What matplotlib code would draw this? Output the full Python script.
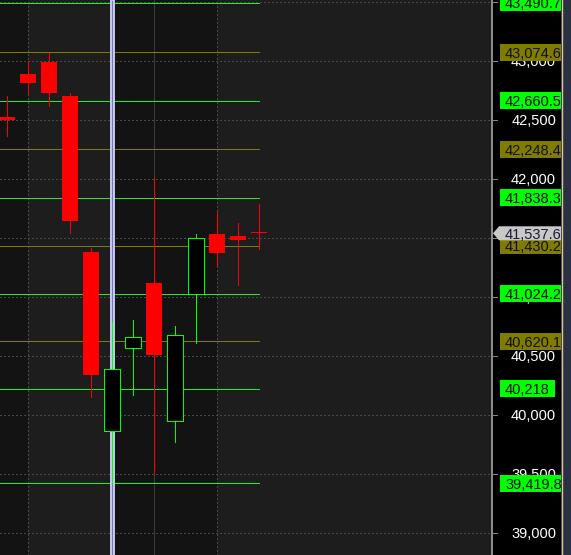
import matplotlib
matplotlib.use("Agg")
import matplotlib.pyplot as plt
from matplotlib.patches import Rectangle, Polygon
from matplotlib.lines import Line2D

# OHLC candles (oldest to newest)
opens  = [42524, 42888, 42990, 42702, 41379, 39861, 40565, 41116, 39946, 41023, 41532, 41515, 41545]
highs  = [42702, 42999, 43067, 42727, 41413, 40785, 40802, 42006, 40751, 41532, 41718, 41625, 41786]
lows   = [42363, 42727, 42617, 41540, 40149, 39420, 40166, 39505, 39767, 40607, 41260, 41099, 41404]
closes = [42499, 42812, 42727, 41642, 40336, 40387, 40658, 40505, 40675, 41498, 41370, 41481, 41537.6]

# Horizontal price levels and their colours
level_values = [43490.7, 43074.6, 42660.5, 42248.4, 41838.3, 41430.2, 41024.2, 40620.1, 40218, 39419.8]
level_labels = ["43,490.7", "43,074.6", "42,660.5", "42,248.4", "41,838.3",
                "41,430.2", "41,024.2", "40,620.1", "40,218", "39,419.8"]
level_kinds = ["g", "o", "g", "o", "g", "o", "g", "o", "g", "g"]

last_price = 41537.6
last_label = "41,537.6"

y_ticks = [39000, 39500, 40000, 40500, 41000, 41500, 42000, 42500, 43000, 43500]
y_tick_labels = ["39,000", "39,500", "40,000", "40,500", "41,000",
                 "41,500", "42,000", "42,500", "43,000", "43,500"]

W, H = 571, 555
AX_RIGHT = 491
SCALE_RIGHT = 561
YMIN, YMAX = 38809.2, 43516.1

GREEN = "#00ff00"
LINE_GREEN = "#22ee22"
OLIVE = "#807c00"
RED = "#ff0000"
DARK_BG = "#131313"
LIGHT_BG = "#1d1d1d"
GRID = "#484848"
FONT = "Liberation Sans"
FS = 10.5
LW = 0.6  # one device pixel, drawn without antialiasing

fig = plt.figure(figsize=(W / 100, H / 100), dpi=100, facecolor="black")

# main price panel
ax = fig.add_axes([0, 0, AX_RIGHT / W, 1])
ax.set_xlim(-1 / 3, 484 / 21)
ax.set_ylim(YMIN, YMAX)
ax.set_facecolor(LIGHT_BG)
for s in ax.spines.values():
    s.set_visible(False)
ax.set_xticks([])
ax.set_yticks([])

# session shading
ax.axvspan(-1 / 3, 1, color=DARK_BG, lw=0, zorder=0)
ax.axvspan(1, 5, color=LIGHT_BG, lw=0, zorder=0)
ax.axvspan(5, 10, color=DARK_BG, lw=0, zorder=0)

# grid
for t in y_ticks:
    ax.axhline(t, color=GRID, lw=LW, ls=(0, (1.5, 2.5)), zorder=1, antialiased=False)
for xv in (1, 10):
    ax.axvline(xv, color=GRID, lw=LW, ls=(0, (1.5, 2.5)), zorder=1, antialiased=False)
ax.axvline(7, color="#3c3c3c", lw=LW, zorder=1, antialiased=False)

n = len(opens)
last_idx = n - 1

# price levels
for v, k in zip(level_values, level_kinds):
    ax.plot([-1 / 3, last_idx], [v, v], color=LINE_GREEN if k == "g" else OLIVE,
            lw=LW, zorder=2, solid_capstyle="butt", antialiased=False)

# crosshair cursor
ax.axvline(5, color="#c4c4f0", lw=2.2, zorder=3, antialiased=False)
ax.axvline(5, color="#7a7ab8", lw=LW, ls=(0, (1, 1)), zorder=3, antialiased=False)

# candles
bw = 16 / 21
min_body = 9
for i, (o, h, l, c) in enumerate(zip(opens, highs, lows, closes)):
    up = c > o
    col = GREEN if up else RED
    ax.plot([i, i], [l, h], color=col, lw=LW, zorder=4, solid_capstyle="butt",
            antialiased=False)
    lo, hi = min(o, c), max(o, c)
    if hi - lo < min_body:
        mid = (hi + lo) / 2
        lo, hi = mid - min_body / 2, mid + min_body / 2
    if up:
        ax.add_patch(Rectangle((i - bw / 2, lo), bw, hi - lo, facecolor="black",
                               edgecolor=col, lw=LW, zorder=5, antialiased=False))
    else:
        ax.add_patch(Rectangle((i - bw / 2, lo), bw, hi - lo, facecolor=col,
                               edgecolor="none", lw=0, zorder=5, antialiased=False))

# price scale panel
axr = fig.add_axes([AX_RIGHT / W, 0, (SCALE_RIGHT - AX_RIGHT) / W, 1])
axr.set_xlim(AX_RIGHT, SCALE_RIGHT)
axr.set_ylim(YMIN, YMAX)
axr.set_facecolor("black")
for s in axr.spines.values():
    s.set_visible(False)
axr.set_xticks([])
axr.set_yticks([])
axr.axvline(AX_RIGHT + 0.5, color="#8a8a8a", lw=1.2, zorder=2, antialiased=False)

for t, lab in zip(y_ticks, y_tick_labels):
    axr.plot([AX_RIGHT, AX_RIGHT + 5.5], [t, t], color="#8a8a8a", lw=LW, zorder=2,
             antialiased=False)
    axr.text(556, t, lab, color="white", fontsize=FS, family=FONT,
             ha="right", va="center_baseline", zorder=3, clip_on=True)

px = (YMAX - YMIN) / H  # price units per pixel
label_texts = []
label_boxes = []
for v, lab, k in zip(level_values, level_labels, level_kinds):
    bg = GREEN if k == "g" else OLIVE
    label_texts.append(axr.text(505, v, lab, color="#111111", fontsize=FS, family=FONT,
                                ha="left", va="center_baseline", zorder=6, clip_on=True))
    box = Rectangle((500, v - 8.5 * px), 0, 17 * px, facecolor=bg,
                    edgecolor="none", zorder=5)
    axr.add_patch(box)
    label_boxes.append(box)

# size label boxes to their text
renderer = fig.canvas.get_renderer()
inv = axr.transData.inverted()
for t, b in zip(label_texts, label_boxes):
    bb = t.get_window_extent(renderer=renderer)
    x1 = inv.transform((bb.x1, bb.y0))[0]
    b.set_width(x1 + 5 - 500)

# last price marker
axr.add_patch(Polygon([(493, last_price), (499, last_price + 7 * px),
                       (SCALE_RIGHT + 5, last_price + 7 * px),
                       (SCALE_RIGHT + 5, last_price - 7 * px),
                       (499, last_price - 7 * px)],
                      closed=True, facecolor="#c8c8c8", edgecolor="none", zorder=5))
axr.text(505, last_price, last_label, color="#1a1a3a", fontsize=FS, family=FONT,
         ha="left", va="center_baseline", zorder=6, clip_on=True)

# right edge strip
fig.add_artist(Rectangle((SCALE_RIGHT / W, 0), (W - SCALE_RIGHT) / W, 1,
                         transform=fig.transFigure, facecolor="#283244",
                         edgecolor="none", zorder=10))
fig.add_artist(Line2D([(SCALE_RIGHT + 0.5) / W] * 2, [0, 1], transform=fig.transFigure,
                      color="#e2c48a", lw=1.0, zorder=11))

fig.savefig("out.png", dpi=100, facecolor=fig.get_facecolor())
